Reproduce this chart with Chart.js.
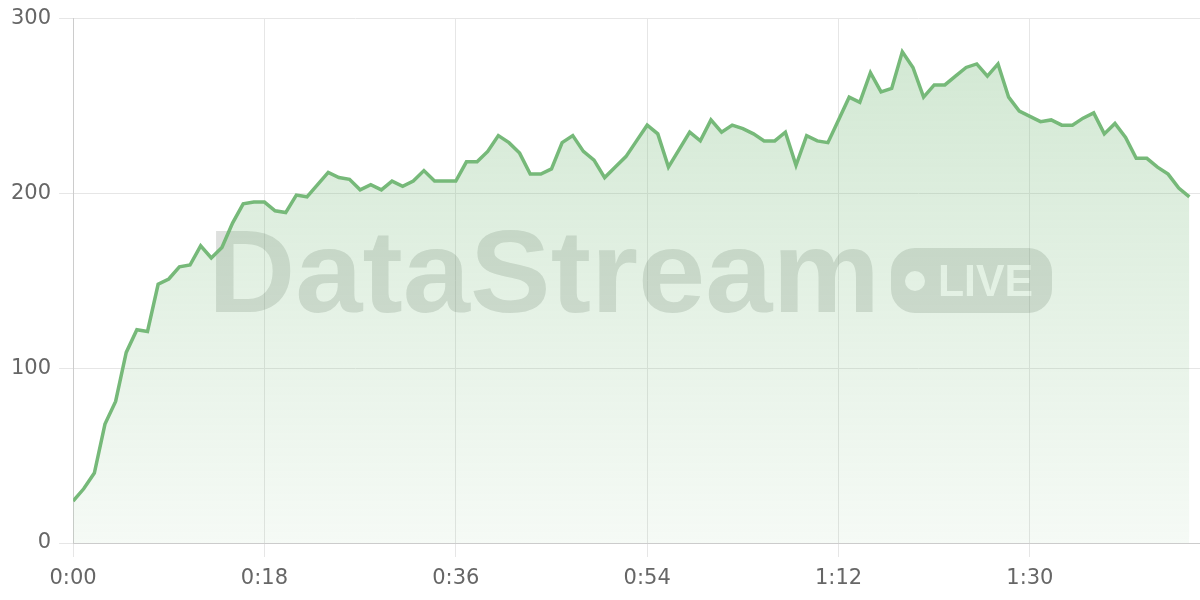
<!DOCTYPE html>
<html>
<head>
<meta charset="utf-8">
<title>DataStream live</title>
<script src="https://cdn.jsdelivr.net/npm/chart.js@4.4.1/dist/chart.umd.min.js"></script>
<style>
html,body{margin:0;padding:0;background:#ffffff;}
#wrap{width:1200px;height:600px;position:relative;}
</style>
</head>
<body>
<div id="wrap"><canvas id="streamChart"></canvas></div>
<script>

// =========================
// Data (one reading per second)
// =========================

const values = [
    24, 31, 40, 68, 81, 109, 122, 121, 148, 151,
    158, 159, 170, 163, 169, 183, 194, 195, 195, 190,
    189, 199, 198, 205, 212, 209, 208, 202, 205, 202,
    207, 204, 207, 213, 207, 207, 207, 218, 218, 224,
    233, 229, 223, 211, 211, 214, 229, 233, 224, 219,
    209, 215, 221, 230, 239, 234, 215, 225, 235, 230,
    242, 235, 239, 237, 234, 230, 230, 235, 216, 233,
    230, 229, 242, 255, 252, 269, 258, 260, 281, 272,
    255, 262, 262, 267, 272, 274, 267, 274, 255, 247,
    244, 241, 242, 239, 239, 243, 246, 234, 240, 232,
    220, 220, 215, 211, 203, 198
];

const seconds = values.map((v,i)=>i);

const yTicks = [0, 100, 200, 300];

const lineColor = "#76b979";

const tickFont = {family:"'DejaVu Sans'", size:21, lineHeight:1};


// =========================
// Time label m:ss
// =========================

function timeLabel(s){
    const m = Math.floor(s/60);
    const r = s%60;
    return m + ":" + (r<10 ? "0"+r : r);
}


// =========================
// Watermark plugin
// =========================

function fitText(o,text,x,y,width){
    const w = o.measureText(text).width;
    o.save();
    o.translate(x,y);
    o.scale(width/w,1);
    o.fillText(text,0,0);
    o.restore();
}

const watermark = {

    id:"watermark",

    beforeDatasetsDraw(chart){

        const ctx = chart.ctx;

        const off = document.createElement("canvas");
        off.width = chart.width;
        off.height = chart.height;
        const o = off.getContext("2d");

        o.fillStyle = "rgb(90,100,90)";
        o.textBaseline = "alphabetic";

        // big word
        o.font = "bold 116px 'Liberation Sans', Arial, sans-serif";
        fitText(o,"DataStream",208,312,672);

        // LIVE badge
        o.beginPath();
        o.roundRect(891,248,161,65,24);
        o.fill();

        o.globalCompositeOperation = "destination-out";
        o.beginPath();
        o.arc(915,281,10,0,Math.PI*2);
        o.fill();
        o.font = "bold 44px 'Liberation Sans', Arial, sans-serif";
        fitText(o,"LIVE",938,296,95);

        ctx.save();
        ctx.globalAlpha = 0.2;
        ctx.drawImage(off,0,0);
        ctx.restore();

    }

};


// =========================
// Create Chart
// =========================

const ctx = document.getElementById("streamChart").getContext("2d");

const streamChart = new Chart(ctx, {

    type:"line",

    data:{

        datasets:[

            {
                label:"DataStream",
                data:values.map((v,i)=>({x:seconds[i], y:v})),
                borderColor:lineColor,
                borderWidth:3.5,
                pointRadius:0,
                tension:0,
                fill:"origin",
                backgroundColor:(c)=>{
                    const area = c.chart.chartArea;
                    if(!area) return "rgba(118,185,121,0.2)";
                    const g = c.chart.ctx.createLinearGradient(0,area.top,0,area.bottom);
                    g.addColorStop(0,"rgba(118,185,121,0.34)");
                    g.addColorStop(1,"rgba(118,185,121,0.07)");
                    return g;
                }
            }

        ]

    },

    options:{

        responsive:true,

        maintainAspectRatio:false,

        animation:false,

        layout:{
            padding:{top:9, right:0, bottom:0, left:3}
        },

        plugins:{
            legend:{display:false},
            tooltip:{enabled:false}
        },

        scales:{

            x:{
                type:"linear",
                min:0,
                max:106,
                ticks:{
                    stepSize:18,
                    includeBounds:false,
                    color:"#666666",
                    padding:11,
                    font:tickFont,
                    callback:(v)=>timeLabel(v)
                },
                grid:{color:"#e6e6e6", tickLength:14},
                border:{color:"#cccccc"}
            },

            y:{
                min:0,
                max:300,
                afterBuildTicks:(axis)=>{
                    axis.ticks = yTicks.map(v=>({value:v}));
                },
                ticks:{
                    color:"#666666",
                    padding:8,
                    font:tickFont
                },
                grid:{color:"#e6e6e6", tickLength:14},
                border:{color:"#cccccc"}
            }

        }

    },

    plugins:[watermark]

});

</script>
</body>
</html>
